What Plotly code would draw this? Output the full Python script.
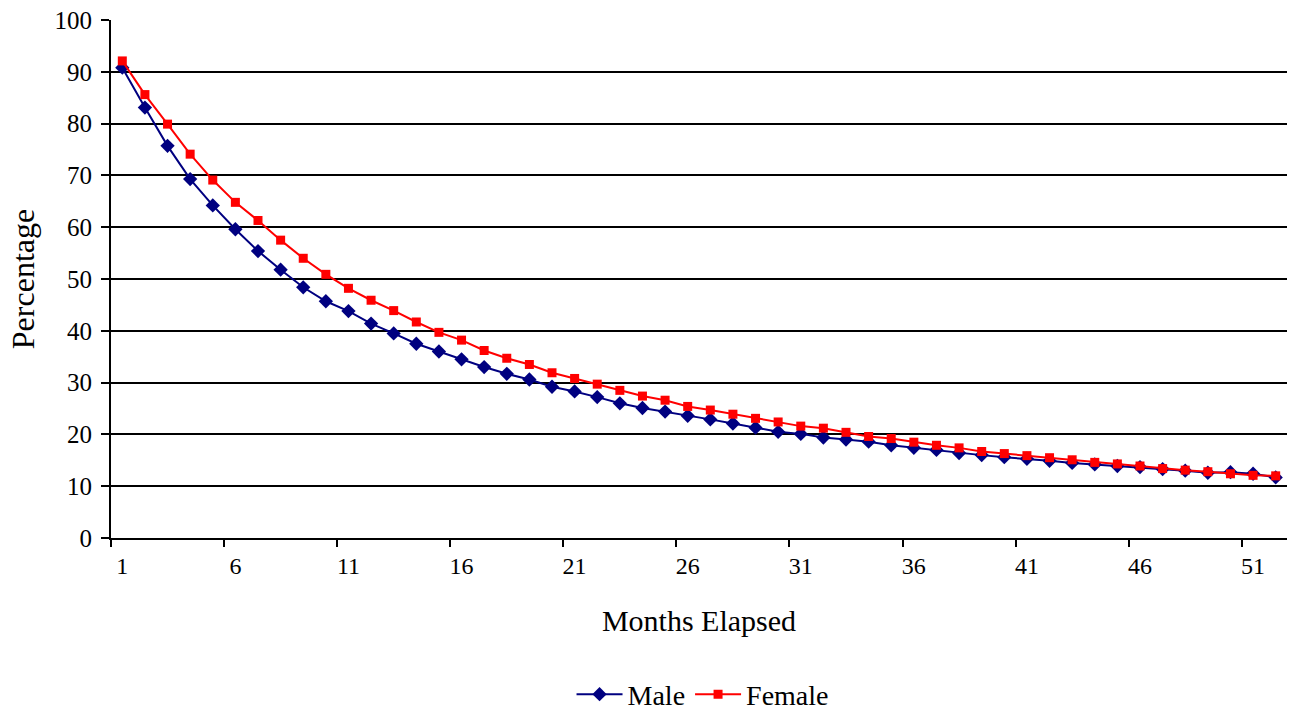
import plotly.graph_objects as go

months = list(range(1, 53))
male = [90.8, 83.1, 75.7, 69.3, 64.2, 59.6, 55.4, 51.8, 48.4, 45.7,
        43.8, 41.4, 39.5, 37.5, 36.0, 34.5, 33.0, 31.7, 30.6, 29.2,
        28.3, 27.2, 26.0, 25.1, 24.4, 23.6, 22.9, 22.1, 21.3, 20.5,
        20.1, 19.4, 19.0, 18.6, 17.9, 17.4, 17.0, 16.4, 16.0, 15.6,
        15.3, 14.9, 14.5, 14.2, 13.9, 13.7, 13.3, 13.0, 12.6, 12.7,
        12.4, 11.7]
female = [92.1, 85.6, 79.9, 74.1, 69.1, 64.8, 61.3, 57.5, 54.0, 50.9,
          48.2, 45.9, 43.9, 41.7, 39.7, 38.2, 36.2, 34.7, 33.5, 31.9,
          30.8, 29.7, 28.5, 27.4, 26.6, 25.4, 24.7, 23.9, 23.1, 22.4,
          21.6, 21.2, 20.4, 19.6, 19.2, 18.5, 17.9, 17.4, 16.7, 16.3,
          15.9, 15.5, 15.1, 14.6, 14.3, 13.9, 13.4, 13.1, 12.8, 12.4,
          12.1, 12.0]
tick_labels = [m for m in months if (m - 1) % 5 == 0]
tick_bounds = [m - 0.5 for m in tick_labels]

FONT = "Liberation Serif"

fig = go.Figure()
fig.add_trace(go.Scatter(
    x=months, y=male, name="Male", mode="lines+markers",
    line=dict(color="#000080", width=2),
    marker=dict(symbol="diamond", size=11, color="#000080"),
))
fig.add_trace(go.Scatter(
    x=months, y=female, name="Female", mode="lines+markers",
    line=dict(color="#FF0000", width=2),
    marker=dict(symbol="square", size=9, color="#FF0000"),
))

xrange = [months[0] - 0.5, months[-1] + 0.5]

fig.update_layout(
    width=1289, height=718,
    margin=dict(l=111, r=2, t=20, b=180, autoexpand=False),
    paper_bgcolor="white", plot_bgcolor="white",
    font=dict(family=FONT, color="black", size=24),
    showlegend=True,
    legend=dict(orientation="h", x=0.503, xanchor="center", y=-0.302, yanchor="middle",
                font=dict(size=28, family=FONT), itemwidth=46, tracegroupgap=0),
    xaxis=dict(
        range=xrange, tickmode="array", tickvals=tick_labels,
        ticktext=[str(t) for t in tick_labels], ticks="",
        showgrid=False, zeroline=False,
        showline=True, linecolor="black", linewidth=2,
        tickfont=dict(size=24, family=FONT), ticklabelstandoff=5,
        title=dict(text="Months Elapsed", font=dict(size=30, family=FONT), standoff=32),
    ),
    xaxis2=dict(
        range=xrange, overlaying="x", side="bottom", tickmode="array",
        tickvals=tick_bounds, ticks="outside", ticklen=8, tickwidth=2,
        tickcolor="black", showticklabels=False, showgrid=False, zeroline=False,
        showline=False,
    ),
    yaxis=dict(
        range=[0, 100], tickmode="linear", tick0=0, dtick=10,
        ticks="outside", ticklen=8, tickwidth=2, tickcolor="black",
        showgrid=True, gridcolor="black", gridwidth=2,
        zeroline=False, showline=True, linecolor="black", linewidth=2,
        tickfont=dict(size=25, family=FONT), ticklabelstandoff=4,
        title=dict(text="Percentage", font=dict(size=32, family=FONT), standoff=10),
    ),
)
# invisible trace to activate xaxis2 ticks
fig.add_trace(go.Scatter(x=[xrange[0]], y=[None], xaxis="x2", showlegend=False,
                         hoverinfo="skip", mode="markers", marker=dict(opacity=0)))
fig.write_html("out.html", config={"displayModeBar": False},
               post_script="document.body.style.margin='0';document.body.style.overflow='hidden';")
